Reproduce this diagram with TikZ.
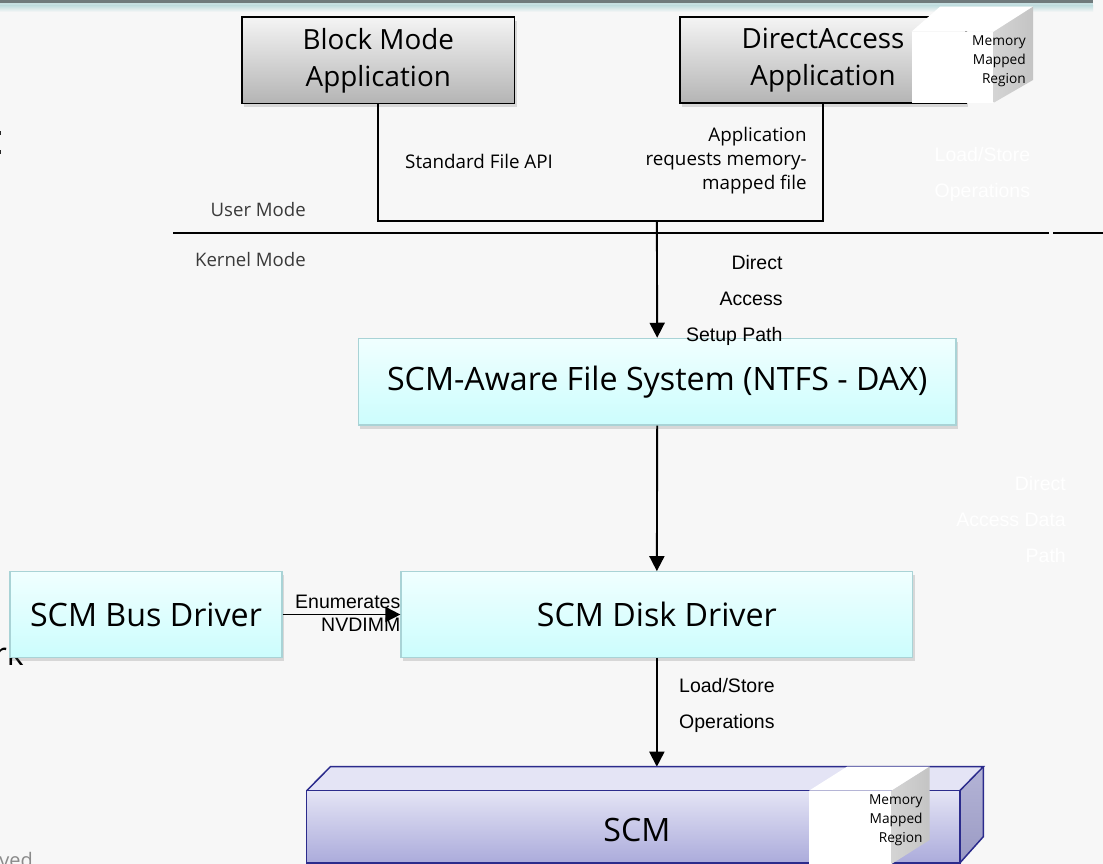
\documentclass[tikz,border=0pt]{standalone}
\usepackage{fontspec}
\setmainfont{Open Sans}
\newfontfamily\arialf{Liberation Sans}
\usetikzlibrary{arrows.meta,shadows}
\definecolor{bg}{HTML}{F7F7F7}
\definecolor{bandDark}{HTML}{6F7A7C}
\definecolor{bandTeal}{HTML}{C5DFE1}
\definecolor{appTop}{HTML}{F4F4F4}
\definecolor{appBot}{HTML}{B4B4B4}
\definecolor{cyTop}{HTML}{F0FFFF}
\definecolor{cyBot}{HTML}{CCFDFD}
\definecolor{cyLine}{HTML}{A9D3D6}
\definecolor{scmTop}{HTML}{E4E4F5}
\definecolor{scmBot}{HTML}{ABABDB}
\definecolor{scmSideTop}{HTML}{B4B4D6}
\definecolor{scmSideBot}{HTML}{9A9AC4}
\definecolor{scmLine}{HTML}{2B2B8C}
\definecolor{mmrGrayA}{HTML}{D4D4D4}
\definecolor{mmrGrayB}{HTML}{C4C4C4}
\definecolor{modeGray}{HTML}{3A3A3A}
\definecolor{fragGray}{HTML}{8A8A8A}
\begin{document}
\begin{tikzpicture}[x=1pt,y=-1pt,
  shadowed/.style={drop shadow={shadow xshift=2pt,shadow yshift=-3.5pt,opacity=.22,fill=black!60}},
  appbox/.style={draw=black,line width=1.6pt,top color=appTop,bottom color=appBot,
    inner sep=0pt,align=center,font=\fontsize{27.8}{37}\selectfont,shadowed},
  cyanbox/.style={draw=cyLine,line width=1.2pt,top color=cyTop,bottom color=cyBot,
    inner sep=0pt,font=\fontsize{32.2}{38}\selectfont,shadowed},
  conn/.style={draw=black,line width=1.9pt},
  arr/.style={conn,-{Triangle[length=15pt,width=15pt]}},
  lbl/.style={inner sep=0pt,font=\fontsize{18.8}{24}\selectfont},
  albl/.style={inner sep=0pt,font=\arialf\fontsize{19.5}{36}\selectfont},
  ghost/.style={albl,text=white},
  modetext/.style={inner sep=0pt,text=modeGray,font=\fontsize{18.6}{22}\selectfont},
  mmrtext/.style={inner sep=0pt,align=right,font=\fontsize{13.7}{19}\selectfont},
  mmrwhite/.style={fill=white},
  mmrside/.style={left color=mmrGrayA,right color=mmrGrayB},
  scmborder/.style={draw=scmLine,line width=1.5pt,line join=miter}
]
\useasboundingbox (0,0) rectangle (1103,864);
\fill[bg] (0,0) rectangle (1103,864);

% top band
\fill[bandDark] (0,0) rectangle (1093,2.7);
\fill[bandTeal] (0,2.7) rectangle (1093,6);
\shade[top color=bandTeal,bottom color=bg] (0,6) rectangle (1093,12);

% clipped fragments at the left edge
\fill[black!85] (0,131) rectangle (1,135);
\fill[black!85] (0,150) rectangle (1,154);
\node[inner sep=0pt,anchor=base east,font=\fontsize{32}{38}\selectfont] (fragrk) at (24,665) {rk};
\node[inner sep=0pt,anchor=base east,text=fragGray,font=\fontsize{20}{24}\selectfont] (fragved) at (33,867) {ved};

% application boxes
\node[appbox,minimum width=272.6pt,minimum height=86.4pt] (block) at (378.3,60.5) {Block Mode\\Application};
\node[appbox,minimum width=286pt,minimum height=86pt] (da) at (823,60.3) {DirectAccess\\Application};

% memory mapped region (top)
\fill[mmrwhite] (911.5,31.7) -- (940,6.7) -- (1033,6.7) -- (993.7,31.7) -- cycle;
\fill[mmrwhite] (911.5,31.7) rectangle (993.7,102.7);
\shade[mmrside] (993.7,31.7) -- (1033,6.7) -- (1033,80) -- (993.7,102.7) -- cycle;
\node[mmrtext,anchor=east] (mmrA) at (1026,61) {Memory\\Mapped\\Region};

% user / kernel divider
\coordinate (divL) at (173,233.3);
\coordinate (divM) at (1049,233.3);
\coordinate (divN) at (1053,233.3);
\coordinate (divR) at (1103,233.3);
\draw[line width=1.8pt] (divL) -- (divM);
\draw[line width=1.8pt] (divN) -- (divR);
\node[modetext,anchor=east] (user) at (306,210) {User Mode};
\node[modetext,anchor=east] (kernel) at (306,260) {Kernel Mode};

% boxes in kernel mode
\node[cyanbox,minimum width=597.7pt,minimum height=86.7pt] (fs) at (657.2,381.7) {SCM-Aware File System (NTFS - DAX)};
\node[cyanbox,minimum width=272pt,minimum height=85.6pt] (bus) at (146,614.5) {SCM Bus Driver};
\node[cyanbox,minimum width=511.7pt,minimum height=85.6pt] (disk) at (656.85,614.5) {SCM Disk Driver};

% connectors from applications
\coordinate (jl) at (378.3,220.7);
\coordinate (jr) at (823,220.7);
\coordinate (jm) at (656.85,220.7);
\draw[conn] (block.south) -- (jl) -- (jr) -- (da.south);
\draw[arr] (jm) -- (fs.north);
\draw[arr] (fs.south) -- (disk.north);
\draw[arr] (bus.east) -- (disk.west);

% labels
\node[lbl,anchor=west] (sfa) at (405,161.7) {Standard File API};
\node[lbl,anchor=east,align=right] (req) at (806.8,161) {Application\\requests memory-\\mapped file};
\node[ghost,anchor=west,align=left] (ghostls) at (934.5,174.3) {Load/Store\\Operations};
\node[albl,anchor=east,align=right] (dasp) at (782.7,300) {Direct\\Access\\Setup Path};
\node[ghost,anchor=east,align=right] (ghostdp) at (1066,520) {Direct\\Access Data\\Path};
\node[inner sep=0pt,anchor=east,align=right,font=\arialf\fontsize{19.5}{23.3}\selectfont] (enum) at (400.5,613.3) {Enumerates\\NVDIMM};
\node[albl,anchor=west,align=left] (ls) at (679,705.3) {Load/Store\\Operations};

% SCM block
\coordinate (scmtop) at (656.85,766.7);
\draw[arr] (disk.south) -- (scmtop);
\fill[scmTop] (306.7,790.7) -- (330.4,766.7) -- (983.3,766.7) -- (959.8,790.7) -- cycle;
\shade[top color=scmSideTop,bottom color=scmSideBot] (959.8,790.7) -- (983.3,766.7) -- (983.3,836.7) -- (959.8,863) -- cycle;
\node[draw=scmLine,line width=1.5pt,top color=scmTop,bottom color=scmBot,inner sep=0pt,
  minimum width=653.1pt,minimum height=72.3pt] (scm) at (633.25,826.85) {};
\node[inner sep=0pt,font=\fontsize{32.2}{38}\selectfont] (scmlabel) at (637,830) {SCM};
\draw[scmborder] (306.7,790.7) -- (330.4,766.7) -- (983.3,766.7) -- (959.8,790.7);
\draw[scmborder] (983.3,766.7) -- (983.3,836.7) -- (959.8,863);

% memory mapped region (bottom)
\fill[mmrwhite] (809,790.7) -- (847,766.7) -- (929.5,766.7) -- (891.5,790.7) -- cycle;
\fill[mmrwhite] (809,790.7) rectangle (891.5,864);
\shade[mmrside] (891.5,790.7) -- (929.5,766.7) -- (929.5,840) -- (891.5,864) -- cycle;
\node[mmrtext,anchor=east] (mmrB) at (922.8,820.5) {Memory\\Mapped\\Region};
\end{tikzpicture}
\end{document}
